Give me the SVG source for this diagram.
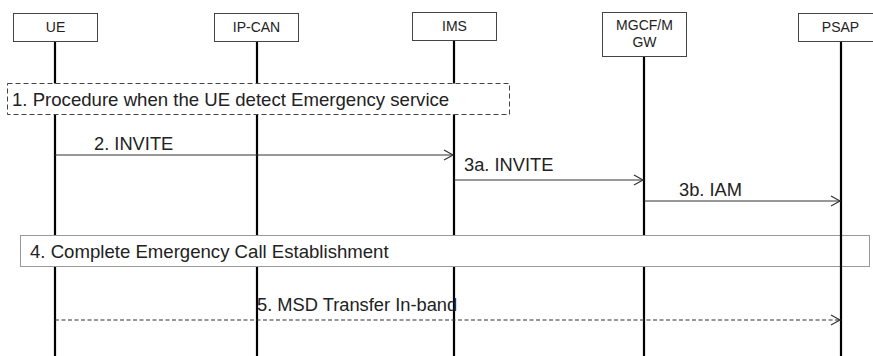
<svg xmlns="http://www.w3.org/2000/svg" width="873" height="356" viewBox="0 0 873 356">
<defs>
<style>
.box{fill:#fff;stroke:#444;stroke-width:1}
.nt{font-family:"Liberation Sans",Arial,sans-serif;font-size:14px;fill:#222;text-anchor:middle}
.life{stroke:#000;stroke-width:2.2}
.msg{stroke:#333;stroke-width:1.2;fill:none}
.lbl{font-family:"Liberation Sans",Arial,sans-serif;font-size:18.3px;fill:#222}
.big{font-family:"Liberation Sans",Arial,sans-serif;font-size:18.6px;fill:#222}
</style>
<marker id="ah" markerWidth="12" markerHeight="12" refX="10" refY="5" orient="auto" markerUnits="userSpaceOnUse" viewBox="0 0 12 10">
<path d="M1,0 L10,5 L1,10" fill="none" stroke="#333" stroke-width="1.2"/>
</marker>
</defs>
<rect width="873" height="356" fill="#fff"/>
<g id="lifelines">
<line class="life" x1="55" y1="42" x2="55" y2="356"/>
<line class="life" x1="257" y1="42" x2="257" y2="356"/>
<line class="life" x1="454" y1="40" x2="454" y2="356"/>
<line class="life" x1="644" y1="57" x2="644" y2="356"/>
</g>
<g id="step1">
<rect x="7.5" y="83.5" width="502" height="31" fill="#fff" stroke="#444" stroke-width="1" stroke-dasharray="5,3"/>
<text class="big" x="12" y="106">1. Procedure when the UE detect Emergency service</text>
</g>
<g id="step4">
<rect x="20.5" y="235.5" width="849" height="31" fill="#fff" stroke="#999" stroke-width="1"/>
<text class="big" x="30" y="258">4. Complete Emergency Call Establishment</text>
</g>
<line class="life" x1="841" y1="41" x2="841" y2="356"/>
<g id="UE"><rect class="box" x="13.5" y="13.5" width="84" height="28"/><text class="nt" x="55.5" y="32">UE</text></g>
<g id="IP-CAN"><rect class="box" x="214.5" y="13.5" width="84" height="28"/><text class="nt" x="256.5" y="32">IP-CAN</text></g>
<g id="IMS"><rect class="box" x="412.5" y="12.5" width="84" height="28"/><text class="nt" x="454.5" y="31">IMS</text></g>
<g id="MGCF"><rect class="box" x="602.5" y="12.5" width="84" height="44"/><text class="nt" x="644.5" y="30">MGCF/M</text><text class="nt" x="644.5" y="47">GW</text></g>
<g id="PSAP"><rect class="box" x="798.5" y="13.5" width="84" height="28"/><text class="nt" x="840.5" y="32">PSAP</text></g>
<g id="connectors">
<line class="msg" x1="55" y1="155" x2="453" y2="155" marker-end="url(#ah)"/>
<line class="msg" x1="454" y1="180" x2="643" y2="180" marker-end="url(#ah)"/>
<line class="msg" x1="644" y1="201" x2="840" y2="201" marker-end="url(#ah)"/>
<line class="msg" x1="55" y1="320" x2="840" y2="320" stroke-dasharray="4,2.5" marker-end="url(#ah)"/>
<text class="lbl" x="94" y="150">2. INVITE</text>
<text class="lbl" x="464" y="171">3a. INVITE</text>
<text class="lbl" x="679" y="196">3b. IAM</text>
<text class="lbl" x="257" y="311">5. MSD Transfer In-band</text>
</g>
</svg>
